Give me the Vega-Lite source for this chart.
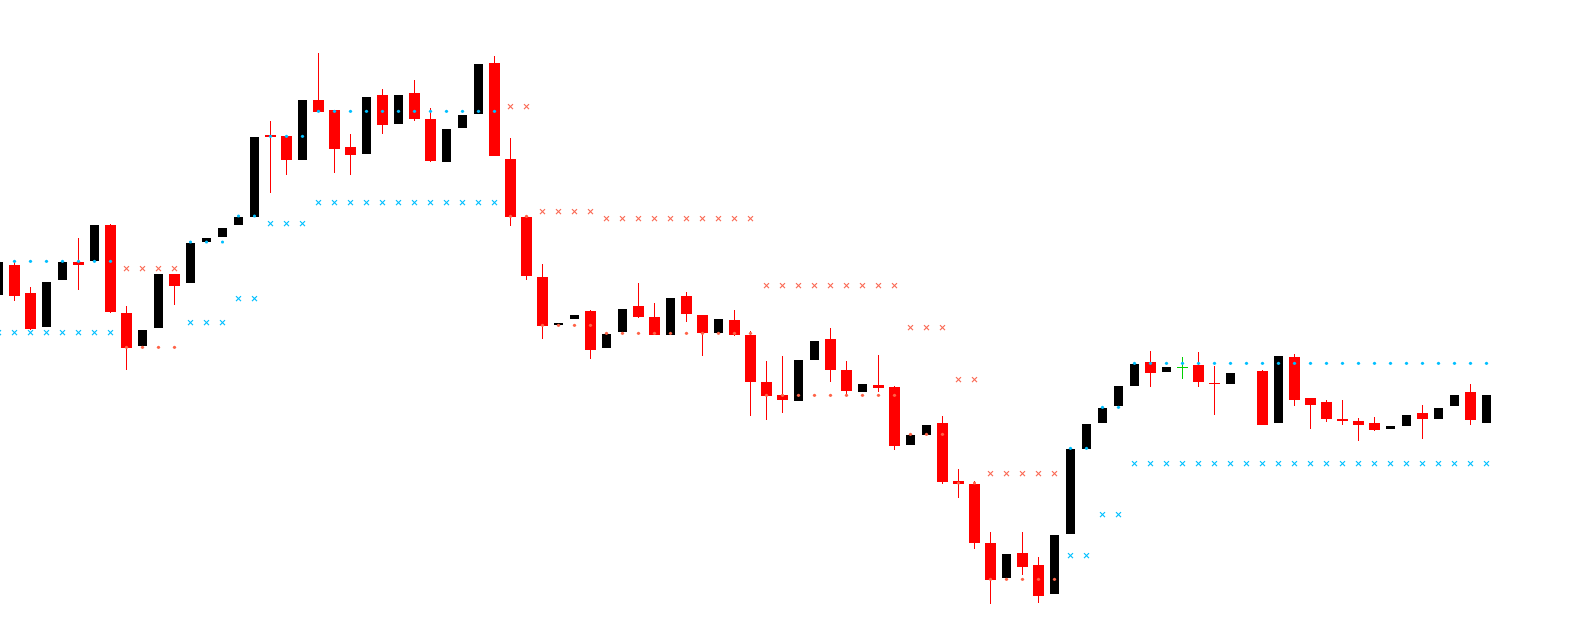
{
  "$schema": "https://vega.github.io/schema/vega-lite/v6.json",
  "width": 1577,
  "height": 644,
  "autosize": {"type": "fit", "contains": "padding"},
  "padding": 0,
  "background": "white",
  "config": {"view": {"stroke": null}, "scale": {"continuousPadding": 0}},
  "datasets": {
    "candles": [
      {"k":0,"dir":"up","open":349,"close":382,"high":382,"low":349},
      {"k":1,"dir":"down","open":379,"close":348,"high":382,"low":343},
      {"k":2,"dir":"down","open":351,"close":315,"high":357,"low":314},
      {"k":3,"dir":"up","open":317,"close":362,"high":362,"low":317},
      {"k":4,"dir":"up","open":364,"close":382,"high":382,"low":364},
      {"k":5,"dir":"down","open":382,"close":379,"high":406,"low":354},
      {"k":6,"dir":"up","open":383,"close":419,"high":419,"low":383},
      {"k":7,"dir":"down","open":419,"close":332,"high":420,"low":331},
      {"k":8,"dir":"down","open":331,"close":296,"high":338,"low":274},
      {"k":9,"dir":"up","open":298,"close":314,"high":314,"low":298},
      {"k":10,"dir":"up","open":316,"close":370,"high":370,"low":316},
      {"k":11,"dir":"down","open":370,"close":358,"high":370,"low":339},
      {"k":12,"dir":"up","open":361,"close":401,"high":401,"low":361},
      {"k":13,"dir":"up","open":402,"close":406,"high":406,"low":402},
      {"k":14,"dir":"up","open":407,"close":416,"high":416,"low":407},
      {"k":15,"dir":"up","open":419,"close":427,"high":427,"low":419},
      {"k":16,"dir":"up","open":427,"close":507,"high":507,"low":427},
      {"k":17,"dir":"down","open":509,"close":507,"high":523,"low":451},
      {"k":18,"dir":"down","open":508,"close":484,"high":508,"low":469},
      {"k":19,"dir":"up","open":484,"close":544,"high":544,"low":484},
      {"k":20,"dir":"down","open":544,"close":532,"high":591,"low":532},
      {"k":21,"dir":"down","open":534,"close":495,"high":534,"low":471},
      {"k":22,"dir":"down","open":497,"close":489,"high":510,"low":469},
      {"k":23,"dir":"up","open":490,"close":547,"high":547,"low":490},
      {"k":24,"dir":"down","open":549,"close":519,"high":555,"low":510},
      {"k":25,"dir":"up","open":520,"close":549,"high":549,"low":520},
      {"k":26,"dir":"down","open":551,"close":525,"high":564,"low":523},
      {"k":27,"dir":"down","open":525,"close":483,"high":536,"low":482},
      {"k":28,"dir":"up","open":482,"close":515,"high":515,"low":482},
      {"k":29,"dir":"up","open":516,"close":529,"high":529,"low":516},
      {"k":30,"dir":"up","open":530,"close":580,"high":580,"low":530},
      {"k":31,"dir":"down","open":581,"close":488,"high":588,"low":488},
      {"k":32,"dir":"down","open":485,"close":427,"high":506,"low":418},
      {"k":33,"dir":"down","open":427,"close":368,"high":427,"low":364},
      {"k":34,"dir":"down","open":367,"close":318,"high":380,"low":305},
      {"k":35,"dir":"up","open":319,"close":321,"high":321,"low":319},
      {"k":36,"dir":"up","open":325,"close":329,"high":329,"low":325},
      {"k":37,"dir":"down","open":333,"close":294,"high":334,"low":285},
      {"k":38,"dir":"up","open":296,"close":310,"high":310,"low":296},
      {"k":39,"dir":"up","open":312,"close":335,"high":335,"low":312},
      {"k":40,"dir":"down","open":338,"close":327,"high":361,"low":326},
      {"k":41,"dir":"down","open":327,"close":309,"high":341,"low":309},
      {"k":42,"dir":"up","open":309,"close":346,"high":346,"low":309},
      {"k":43,"dir":"down","open":348,"close":330,"high":352,"low":322},
      {"k":44,"dir":"down","open":329,"close":311,"high":329,"low":288},
      {"k":45,"dir":"up","open":311,"close":325,"high":325,"low":311},
      {"k":46,"dir":"down","open":324,"close":309,"high":334,"low":308},
      {"k":47,"dir":"down","open":309,"close":262,"high":313,"low":228},
      {"k":48,"dir":"down","open":262,"close":248,"high":283,"low":224},
      {"k":49,"dir":"down","open":249,"close":244,"high":288,"low":231},
      {"k":50,"dir":"up","open":243,"close":284,"high":284,"low":243},
      {"k":51,"dir":"up","open":284,"close":303,"high":303,"low":284},
      {"k":52,"dir":"down","open":305,"close":274,"high":316,"low":262},
      {"k":53,"dir":"down","open":274,"close":253,"high":283,"low":249},
      {"k":54,"dir":"up","open":252,"close":260,"high":260,"low":252},
      {"k":55,"dir":"down","open":259,"close":256,"high":289,"low":252},
      {"k":56,"dir":"down","open":257,"close":198,"high":258,"low":194},
      {"k":57,"dir":"up","open":199,"close":209,"high":209,"low":199},
      {"k":58,"dir":"up","open":209,"close":219,"high":219,"low":209},
      {"k":59,"dir":"down","open":221,"close":162,"high":228,"low":160},
      {"k":60,"dir":"down","open":163,"close":160,"high":175,"low":146},
      {"k":61,"dir":"down","open":160,"close":101,"high":163,"low":95},
      {"k":62,"dir":"down","open":101,"close":64,"high":112,"low":40},
      {"k":63,"dir":"up","open":66,"close":90,"high":90,"low":66},
      {"k":64,"dir":"down","open":91,"close":77,"high":112,"low":69},
      {"k":65,"dir":"down","open":79,"close":48,"high":87,"low":41},
      {"k":66,"dir":"up","open":50,"close":109,"high":109,"low":50},
      {"k":67,"dir":"up","open":110,"close":195,"high":195,"low":110},
      {"k":68,"dir":"up","open":195,"close":220,"high":220,"low":195},
      {"k":69,"dir":"up","open":221,"close":236,"high":236,"low":221},
      {"k":70,"dir":"up","open":238,"close":258,"high":258,"low":238},
      {"k":71,"dir":"up","open":258,"close":280,"high":280,"low":258},
      {"k":72,"dir":"down","open":282,"close":271,"high":293,"low":257},
      {"k":73,"dir":"up","open":272,"close":277,"high":277,"low":272},
      {"k":74,"dir":"flat","open":277,"close":276,"high":287,"low":265},
      {"k":75,"dir":"down","open":279,"close":262,"high":292,"low":257},
      {"k":76,"dir":"down","open":261,"close":260,"high":278,"low":229},
      {"k":77,"dir":"up","open":260,"close":271,"high":271,"low":260},
      {"k":79,"dir":"down","open":273,"close":219,"high":274,"low":219},
      {"k":80,"dir":"up","open":221,"close":288,"high":288,"low":221},
      {"k":81,"dir":"down","open":287,"close":244,"high":290,"low":238},
      {"k":82,"dir":"down","open":246,"close":239,"high":246,"low":215},
      {"k":83,"dir":"down","open":242,"close":225,"high":244,"low":222},
      {"k":84,"dir":"down","open":225,"close":223,"high":244,"low":219},
      {"k":85,"dir":"down","open":223,"close":219,"high":226,"low":203},
      {"k":86,"dir":"down","open":221,"close":214,"high":227,"low":213},
      {"k":87,"dir":"up","open":215,"close":218,"high":218,"low":215},
      {"k":88,"dir":"up","open":218,"close":229,"high":229,"low":218},
      {"k":89,"dir":"down","open":231,"close":225,"high":239,"low":205},
      {"k":90,"dir":"up","open":225,"close":236,"high":236,"low":225},
      {"k":91,"dir":"up","open":238,"close":249,"high":249,"low":238},
      {"k":92,"dir":"down","open":252,"close":224,"high":260,"low":219},
      {"k":93,"dir":"up","open":221,"close":249,"high":249,"low":221}
    ],
    "markers": [
      {"k":0,"trend":"up","dot":382.7,"cross":311.3},
      {"k":1,"trend":"up","dot":382.7,"cross":311.3},
      {"k":2,"trend":"up","dot":382.7,"cross":311.3},
      {"k":3,"trend":"up","dot":382.7,"cross":311.3},
      {"k":4,"trend":"up","dot":382.7,"cross":311.3},
      {"k":5,"trend":"up","dot":382.7,"cross":311.3},
      {"k":6,"trend":"up","dot":382.7,"cross":311.3},
      {"k":7,"trend":"up","dot":382.7,"cross":311.3},
      {"k":8,"trend":"down","dot":296.7,"cross":375.3},
      {"k":9,"trend":"down","dot":296.7,"cross":375.3},
      {"k":10,"trend":"down","dot":296.7,"cross":375.3},
      {"k":11,"trend":"down","dot":296.7,"cross":375.3},
      {"k":12,"trend":"up","dot":402,"cross":321.3},
      {"k":13,"trend":"up","dot":402,"cross":321.3},
      {"k":14,"trend":"up","dot":402,"cross":321.3},
      {"k":15,"trend":"up","dot":428,"cross":345.3},
      {"k":16,"trend":"up","dot":428,"cross":345.3},
      {"k":17,"trend":"up","dot":507.7,"cross":420.3},
      {"k":18,"trend":"up","dot":507.7,"cross":420.3},
      {"k":19,"trend":"up","dot":507.7,"cross":420.3},
      {"k":20,"trend":"up","dot":532.7,"cross":441.3},
      {"k":21,"trend":"up","dot":532.7,"cross":441.3},
      {"k":22,"trend":"up","dot":532.7,"cross":441.3},
      {"k":23,"trend":"up","dot":532.7,"cross":441.3},
      {"k":24,"trend":"up","dot":532.7,"cross":441.3},
      {"k":25,"trend":"up","dot":532.7,"cross":441.3},
      {"k":26,"trend":"up","dot":532.7,"cross":441.3},
      {"k":27,"trend":"up","dot":532.7,"cross":441.3},
      {"k":28,"trend":"up","dot":532.7,"cross":441.3},
      {"k":29,"trend":"up","dot":532.7,"cross":441.3},
      {"k":30,"trend":"up","dot":532.7,"cross":441.3},
      {"k":31,"trend":"up","dot":532.7,"cross":441.3},
      {"k":32,"trend":"down","dot":427.7,"cross":537.3},
      {"k":33,"trend":"down","dot":427.7,"cross":537.3},
      {"k":34,"trend":"down","dot":318.7,"cross":432.3},
      {"k":35,"trend":"down","dot":318.7,"cross":432.3},
      {"k":36,"trend":"down","dot":318.7,"cross":432.3},
      {"k":37,"trend":"down","dot":318.7,"cross":432.3},
      {"k":38,"trend":"down","dot":310.7,"cross":425.3},
      {"k":39,"trend":"down","dot":310.7,"cross":425.3},
      {"k":40,"trend":"down","dot":310.7,"cross":425.3},
      {"k":41,"trend":"down","dot":310.7,"cross":425.3},
      {"k":42,"trend":"down","dot":310.7,"cross":425.3},
      {"k":43,"trend":"down","dot":310.7,"cross":425.3},
      {"k":44,"trend":"down","dot":310.7,"cross":425.3},
      {"k":45,"trend":"down","dot":310.7,"cross":425.3},
      {"k":46,"trend":"down","dot":310.7,"cross":425.3},
      {"k":47,"trend":"down","dot":310.7,"cross":425.3},
      {"k":48,"trend":"down","dot":248.7,"cross":358.3},
      {"k":49,"trend":"down","dot":248.7,"cross":358.3},
      {"k":50,"trend":"down","dot":248.7,"cross":358.3},
      {"k":51,"trend":"down","dot":248.7,"cross":358.3},
      {"k":52,"trend":"down","dot":248.7,"cross":358.3},
      {"k":53,"trend":"down","dot":248.7,"cross":358.3},
      {"k":54,"trend":"down","dot":248.7,"cross":358.3},
      {"k":55,"trend":"down","dot":248.7,"cross":358.3},
      {"k":56,"trend":"down","dot":248.7,"cross":358.3},
      {"k":57,"trend":"down","dot":209.7,"cross":316.3},
      {"k":58,"trend":"down","dot":209.7,"cross":316.3},
      {"k":59,"trend":"down","dot":209.7,"cross":316.3},
      {"k":60,"trend":"down","dot":161,"cross":264.3},
      {"k":61,"trend":"down","dot":161,"cross":264.3},
      {"k":62,"trend":"down","dot":64.7,"cross":170.3},
      {"k":63,"trend":"down","dot":64.7,"cross":170.3},
      {"k":64,"trend":"down","dot":64.7,"cross":170.3},
      {"k":65,"trend":"down","dot":64.7,"cross":170.3},
      {"k":66,"trend":"down","dot":64.7,"cross":170.3},
      {"k":67,"trend":"up","dot":195.7,"cross":88.3},
      {"k":68,"trend":"up","dot":195.7,"cross":88.3},
      {"k":69,"trend":"up","dot":236.7,"cross":129.3},
      {"k":70,"trend":"up","dot":236.7,"cross":129.3},
      {"k":71,"trend":"up","dot":280.7,"cross":180.3},
      {"k":72,"trend":"up","dot":280.7,"cross":180.3},
      {"k":73,"trend":"up","dot":280.7,"cross":180.3},
      {"k":74,"trend":"up","dot":280.7,"cross":180.3},
      {"k":75,"trend":"up","dot":280.7,"cross":180.3},
      {"k":76,"trend":"up","dot":280.7,"cross":180.3},
      {"k":77,"trend":"up","dot":280.7,"cross":180.3},
      {"k":78,"trend":"up","dot":280.7,"cross":180.3},
      {"k":79,"trend":"up","dot":280.7,"cross":180.3},
      {"k":80,"trend":"up","dot":280.7,"cross":180.3},
      {"k":81,"trend":"up","dot":280.7,"cross":180.3},
      {"k":82,"trend":"up","dot":280.7,"cross":180.3},
      {"k":83,"trend":"up","dot":280.7,"cross":180.3},
      {"k":84,"trend":"up","dot":280.7,"cross":180.3},
      {"k":85,"trend":"up","dot":280.7,"cross":180.3},
      {"k":86,"trend":"up","dot":280.7,"cross":180.3},
      {"k":87,"trend":"up","dot":280.7,"cross":180.3},
      {"k":88,"trend":"up","dot":280.7,"cross":180.3},
      {"k":89,"trend":"up","dot":280.7,"cross":180.3},
      {"k":90,"trend":"up","dot":280.7,"cross":180.3},
      {"k":91,"trend":"up","dot":280.7,"cross":180.3},
      {"k":92,"trend":"up","dot":280.7,"cross":180.3},
      {"k":93,"trend":"up","dot":280.7,"cross":180.3}
    ]
  },
  "layer": [
    {
      "data": {"name": "candles"},
      "transform": [{"filter": "datum.dir !== 'up'"}],
      "mark": {"type": "rule", "strokeWidth": 1, "clip": true},
      "encoding": {
        "x": {"field": "k", "type": "quantitative", "scale": {"domain": [0.09375, 98.65625], "nice": false, "zero": false, "padding": 0}, "axis": null},
        "y": {"field": "low", "type": "quantitative", "scale": {"domain": [0, 644], "nice": false, "zero": false, "padding": 0}, "axis": null},
        "y2": {"field": "high"},
        "color": {"condition": {"test": "datum.dir === 'flat'", "value": "#00D000"}, "value": "#FF0000"}
      }
    },
    {
      "data": {"name": "candles"},
      "transform": [{"filter": "datum.dir !== 'up'"}],
      "mark": {"type": "bar", "size": 11, "clip": true},
      "encoding": {
        "x": {"field": "k", "type": "quantitative", "scale": {"domain": [0.09375, 98.65625], "nice": false, "zero": false, "padding": 0}, "axis": null},
        "y": {"field": "open", "type": "quantitative", "scale": {"domain": [0, 644], "nice": false, "zero": false, "padding": 0}, "axis": null},
        "y2": {"field": "close"},
        "color": {"condition": {"test": "datum.dir === 'flat'", "value": "#00D000"}, "value": "#FF0000"}
      }
    },
    {
      "data": {"name": "candles"},
      "transform": [{"filter": "datum.dir === 'up'"}],
      "mark": {"type": "bar", "size": 9, "clip": true, "color": "#000000"},
      "encoding": {
        "x": {"field": "k", "type": "quantitative", "scale": {"domain": [0.09375, 98.65625], "nice": false, "zero": false, "padding": 0}, "axis": null},
        "y": {"field": "open", "type": "quantitative", "scale": {"domain": [0, 644], "nice": false, "zero": false, "padding": 0}, "axis": null},
        "y2": {"field": "close"}
      }
    },
    {
      "data": {"name": "markers"},
      "mark": {"type": "point", "shape": "circle", "filled": true, "size": 10, "opacity": 1, "clip": true},
      "encoding": {
        "x": {"field": "k", "type": "quantitative", "scale": {"domain": [0.09375, 98.65625], "nice": false, "zero": false, "padding": 0}, "axis": null},
        "y": {"field": "dot", "type": "quantitative", "scale": {"domain": [0, 644], "nice": false, "zero": false, "padding": 0}, "axis": null},
        "color": {"condition": {"test": "datum.trend === 'up'", "value": "#00BFFF"}, "value": "#FF6347"}
      }
    },
    {
      "data": {"name": "markers"},
      "mark": {"type": "point", "shape": "M-1,-1L1,1M-1,1L1,-1", "filled": false, "size": 25, "strokeWidth": 1.2, "opacity": 1, "clip": true},
      "encoding": {
        "x": {"field": "k", "type": "quantitative", "scale": {"domain": [0.09375, 98.65625], "nice": false, "zero": false, "padding": 0}, "axis": null},
        "y": {"field": "cross", "type": "quantitative", "scale": {"domain": [0, 644], "nice": false, "zero": false, "padding": 0}, "axis": null},
        "color": {"condition": {"test": "datum.trend === 'up'", "value": "#00BFFF"}, "value": "#FA6A55"}
      }
    }
  ]
}
